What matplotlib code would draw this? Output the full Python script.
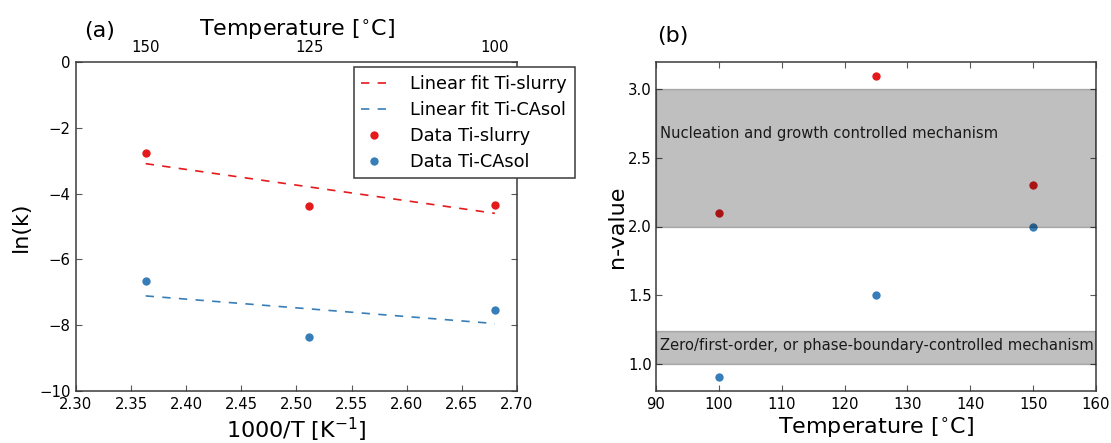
import matplotlib
matplotlib.use("Agg")
import matplotlib.pyplot as plt
import numpy as np

# ---- data ----
temps_C = [150, 125, 100]
inv_T = [2.3632, 2.5116, 2.6799]          # 1000/T [1/K]
lnk_slurry = [-2.78, -4.38, -4.34]
lnk_casol = [-6.65, -8.37, -7.54]
fit_x = [2.3632, 2.6799]
fit_slurry = [-3.09, -4.60]
fit_casol = [-7.11, -7.95]

temp_b = [100, 125, 150]
n_slurry = [2.1, 3.1, 2.3]
n_casol = [0.9, 1.5, 2.0]
band_nucleation = (2.0, 3.0)
band_zero = (1.0, 1.24)

RED = "#e41a1c"
BLUE = "#377eb8"
SPINE = "#3a3a3a"

TICK_FS = 10.7
LABEL_FS = 16
LEG_FS = 12.8

plt.rcParams["font.family"] = "DejaVu Sans"
plt.rcParams["mathtext.fontset"] = "dejavusans"

W, H = 1111, 443
fig = plt.figure(figsize=(W / 100, H / 100), dpi=100)

def box(x0, y0, x1, y1):
    return [x0 / W, 1 - y1 / H, (x1 - x0) / W, (y1 - y0) / H]

axA = fig.add_axes(box(76, 62, 517, 391))
axB = fig.add_axes(box(656, 62, 1096, 391))

def style(ax):
    for s in ax.spines.values():
        s.set_color(SPINE)
        s.set_linewidth(1.1)
    ax.tick_params(direction="in", length=4.5, width=0.8, color="0.35",
                   labelsize=TICK_FS, pad=4, top=True, right=True)

# ---- panel (a) ----
style(axA)
axA.plot(fit_x, fit_slurry, linestyle=(0, (5, 5)), color=RED, lw=1.2,
         label="Linear fit Ti-slurry")
axA.plot(fit_x, fit_casol, linestyle=(0, (5, 5)), color=BLUE, lw=1.2,
         label="Linear fit Ti-CAsol")
axA.plot(inv_T, lnk_slurry, "o", color=RED, ms=6, mew=0, label="Data Ti-slurry")
axA.plot(inv_T, lnk_casol, "o", color=BLUE, ms=6, mew=0, label="Data Ti-CAsol")
axA.set_xlim(2.30, 2.70)
axA.set_ylim(-10, 0)
xt = np.arange(2.30, 2.7001, 0.05)
axA.set_xticks(xt)
axA.set_xticklabels([f"{v:.2f}" for v in xt])
axA.set_yticks([-10, -8, -6, -4, -2, 0])
axA.tick_params(top=False)
axA.set_xlabel("1000/T [K$^{-1}$]", fontsize=LABEL_FS, labelpad=3)
axA.set_ylabel("ln(k)", fontsize=LABEL_FS, labelpad=6)

top = axA.twiny()
top.set_xlim(axA.get_xlim())
top.set_xticks(inv_T)
top.set_xticklabels([str(t) for t in temps_C])
top.tick_params(direction="in", length=0, labelsize=TICK_FS, pad=5)
for s in top.spines.values():
    s.set_visible(False)
top.set_xlabel("Temperature [$^{\\circ}$C]", fontsize=LABEL_FS, labelpad=3)

leg = axA.legend(loc="upper left", bbox_to_anchor=(354 / W, 1 - 67.3 / H),
                 bbox_transform=fig.transFigure, borderaxespad=0,
                 fontsize=LEG_FS, numpoints=1, handlelength=1.45,
                 handletextpad=1.3, labelspacing=0.45, borderpad=0.42,
                 fancybox=False, framealpha=1)
leg.get_frame().set_edgecolor(SPINE)
leg.get_frame().set_linewidth(1.1)

fig.text(84 / W, 1 - 31 / H, "(a)", fontsize=LABEL_FS, ha="left", va="center")

# ---- panel (b) ----
style(axB)
axB.tick_params(axis="y", pad=3)
axB.plot(temp_b, n_slurry, "o", color=RED, ms=6, mew=0, zorder=2)
axB.plot(temp_b, n_casol, "o", color=BLUE, ms=6, mew=0, zorder=2)
axB.axhspan(*band_nucleation, color="black", alpha=0.25, zorder=3)
axB.axhspan(*band_zero, color="black", alpha=0.25, zorder=3)
axB.text(90.6, 2.68, "Nucleation and growth controlled mechanism",
         fontsize=10.6, va="center", ha="left", color="#1a1a1a", zorder=4)
axB.text(90.6, 1.133, "Zero/first-order, or phase-boundary-controlled mechanism",
         fontsize=10.6, va="center", ha="left", color="#1a1a1a", zorder=4)
axB.set_xlim(90, 160)
axB.set_ylim(0.8, 3.2)
axB.set_xticks(range(90, 161, 10))
axB.set_yticks([1.0, 1.5, 2.0, 2.5, 3.0])
axB.set_yticklabels(["1.0", "1.5", "2.0", "2.5", "3.0"])
axB.set_xlabel("Temperature [$^{\\circ}$C]", fontsize=LABEL_FS, labelpad=3)
axB.set_ylabel("n-value", fontsize=LABEL_FS, labelpad=1)

fig.text(657 / W, 1 - 36 / H, "(b)", fontsize=LABEL_FS, ha="left", va="center")

fig.savefig("out.png", dpi=100)
